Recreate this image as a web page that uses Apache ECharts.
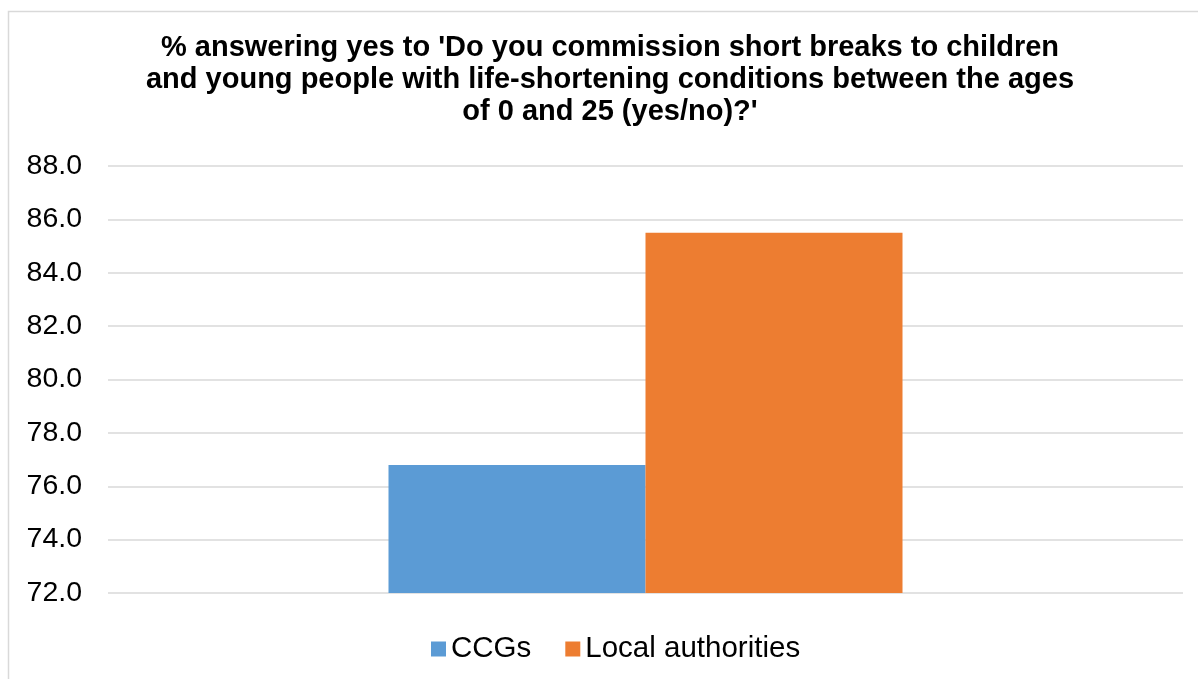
<!DOCTYPE html>
<html>
<head>
<meta charset="utf-8">
<script src="https://cdn.jsdelivr.net/npm/echarts@6/dist/echarts.min.js"></script>
<style>
  html, body { margin: 0; padding: 0; background: #ffffff; }
  #chart { width: 1198px; height: 679px; }
</style>
</head>
<body>
<div id="chart"></div>
<script>
// Chart data
const titleText = "% answering yes to 'Do you commission short breaks to children\nand young people with life-shortening conditions between the ages\nof 0 and 25 (yes/no)?'";
const categories = [''];
const seriesNames = ['CCGs', 'Local authorities'];
const ccgValues = [76.8];
const laValues = [85.5];
const seriesColors = ['#5B9BD5', '#ED7D31'];
const yMin = 72, yMax = 88, yStep = 2;

const FONT = 'Liberation Sans, Arial, sans-serif';

const chart = echarts.init(document.getElementById('chart'), null, { renderer: 'canvas' });

chart.setOption({
  animation: false,
  backgroundColor: '#ffffff',
  textStyle: { fontFamily: FONT },
  graphic: [{
    type: 'rect',
    shape: { x: 8.5, y: 11.5, width: 1250, height: 720 },
    style: { fill: 'none', stroke: '#d9d9d9', lineWidth: 1.5 },
    silent: true,
    z: -1
  }],
  title: {
    text: titleText,
    left: 610,
    top: 32,
    padding: 0,
    textAlign: 'center',
    textStyle: {
      fontFamily: FONT,
      fontSize: 29,
      fontWeight: 'bold',
      color: '#000000',
      lineHeight: 32
    }
  },
  legend: {
    data: seriesNames,
    left: 431,
    top: 634,
    padding: 0,
    icon: 'rect',
    itemWidth: 15,
    itemHeight: 15,
    itemGap: 34,
    textStyle: { fontFamily: FONT, fontSize: 29.5, color: '#000000' }
  },
  grid: { left: 108, right: 15, top: 166, bottom: 86, containLabel: false },
  xAxis: {
    type: 'category',
    data: categories,
    axisLine: { show: false },
    axisTick: { show: false },
    axisLabel: { show: false },
    splitLine: { show: false }
  },
  yAxis: {
    type: 'value',
    min: yMin,
    max: yMax,
    interval: yStep,
    axisLine: { show: false },
    axisTick: { show: false },
    axisLabel: {
      margin: 26,
      fontFamily: FONT,
      fontSize: 28.5,
      color: '#000000',
      formatter: v => v.toFixed(1)
    },
    splitLine: { show: true, lineStyle: { color: '#d9d9d9', width: 1.5 } }
  },
  series: [
    {
      name: seriesNames[0],
      type: 'bar',
      data: ccgValues,
      barWidth: 257,
      barGap: '0%',
      itemStyle: { color: seriesColors[0] }
    },
    {
      name: seriesNames[1],
      type: 'bar',
      data: laValues,
      barWidth: 257,
      barGap: '0%',
      itemStyle: { color: seriesColors[1] }
    }
  ]
});
</script>
</body>
</html>
